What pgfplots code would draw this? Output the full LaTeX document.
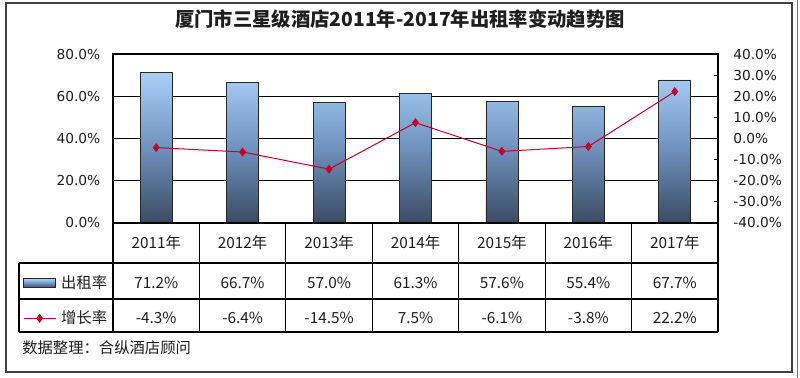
\documentclass[border=0pt]{standalone}
\usepackage{pgfplots}
\pgfplotsset{compat=1.18}
\usepackage{fontspec}
\setmainfont{Noto Sans CJK SC}
\newfontfamily\tickfont{DejaVu Sans}
\definecolor{barTop}{HTML}{A8D0F7}
\definecolor{barMid}{HTML}{6F92BE}
\definecolor{barBot}{HTML}{3B4A61}
\definecolor{lineRed}{HTML}{C80028}
\definecolor{txt}{HTML}{1E1E1E}
\pgfplotsset{
  barlegend/.style={legend image code/.code={\draw[##1] (0pt,-3.4pt) rectangle (24pt,3.4pt);}},
  linelegend/.style={legend image code/.code={\draw[mark repeat=2,mark phase=2,##1] plot coordinates {(0pt,0pt) (12pt,0pt) (24pt,0pt)};}},
}
\begin{document}
\begin{tikzpicture}[x=0.75pt,y=0.75pt]
\useasboundingbox (0,0) rectangle (800,378);
\fill[white] (0,0) rectangle (800,378);
\draw[line width=1.4pt, black!75] (6,375) rectangle (792,6);
\draw[line width=1pt, black!55] (797.5,0) -- (797.5,378);
\node[font=\bfseries\fontsize{14.5}{16}\selectfont, text=txt] at (400,359) {厦门市三星级酒店2011年-2017年出租率变动趋势图};

\begin{axis}[at={(84.75pt,116.25pt)}, anchor=south west, scale only axis,
  width=453.75pt, height=126.75pt,
  xmin=-0.5, xmax=6.5, ymin=0, ymax=80,
  xtick=\empty, ytick={0,20,...,80},
  ymajorgrids, grid style={black, line width=0.75pt},
  axis line style={black, line width=0.9pt},
  major tick length=0pt,
  /pgf/number format/assume math mode=true,
  yticklabel={\pgfmathprintnumber[fixed,fixed zerofill,precision=1]{\tick}\%},
  yticklabel style={font=\tickfont\fontsize{10.3}{12}\selectfont, text=txt, xshift=-6pt},
]
\addplot[ybar, bar width=24pt, draw=black!85, line width=0.6pt,
  top color=barTop, bottom color=barBot, middle color=barMid]
  coordinates {(0,71.2) (1,66.7) (2,57.0) (3,61.3) (4,57.6) (5,55.4) (6,67.7)};
\end{axis}

\begin{axis}[at={(84.75pt,116.25pt)}, anchor=south west, scale only axis,
  width=453.75pt, height=126.75pt,
  xmin=-0.5, xmax=6.5, ymin=-40, ymax=40,
  hide x axis, axis y line*=right,
  ytick={-40,-30,...,40},
  tick align=inside, major tick length=3pt,
  ytick style={black, line width=0.6pt},
  axis line style={black, line width=0.9pt},
  /pgf/number format/assume math mode=true,
  yticklabel={\pgfmathprintnumber[fixed,fixed zerofill,precision=1]{\tick}\%},
  yticklabel style={font=\tickfont\fontsize{10.3}{12}\selectfont, text=txt, xshift=8pt},
  legend cell align=left,
  legend style={at={(axis description cs:-0.149,-0.3136)}, anchor=north west,
    draw=none, fill=none, inner sep=0pt, row sep=15.75pt, column sep=3.75pt,
    nodes={inner sep=0pt, text height=9.25pt, text depth=1.25pt,
      font=\fontsize{11.5}{13}\selectfont, text=txt}},
]
\addlegendimage{draw=black!85, line width=0.6pt, top color=barTop, bottom color=barBot, middle color=barMid, barlegend}
\addlegendentry{出租率}
\addplot[color=lineRed, line width=0.75pt, mark=diamond*, mark size=2.8pt, linelegend]
  coordinates {(0,-4.3) (1,-6.4) (2,-14.5) (3,7.5) (4,-6.1) (5,-3.8) (6,22.2)};
\addlegendentry{增长率}
\end{axis}

% data table
\begin{scope}[line width=0.9pt, black]
\draw (113,155) -- (718,155);
\draw (19,115) -- (718,115);
\draw (19,79) -- (718,79);
\draw (19,46) -- (718,46);
\draw (19,115) -- (19,46);
\foreach \k in {0,...,7} {\draw ({113+86.4286*\k},155) -- ({113+86.4286*\k},46);}
\end{scope}
\begin{scope}[every node/.style={font=\fontsize{11.5}{13}\selectfont, text=txt, inner sep=0pt}]
\foreach \yr [count=\i from 0] in {2011,2012,2013,2014,2015,2016,2017}
  {\node at ({156.2+86.4286*\i},135) {\yr 年};}
\foreach \v [count=\i from 0] in {71.2\%,66.7\%,57.0\%,61.3\%,57.6\%,55.4\%,67.7\%}
  {\node at ({156.2+86.4286*\i},95) {\v};}
\foreach \v [count=\i from 0] in {-4.3\%,-6.4\%,-14.5\%,7.5\%,-6.1\%,-3.8\%,22.2\%}
  {\node at ({156.2+86.4286*\i},60) {\v};}
\node[anchor=west] at (22,30) {数据整理：合纵酒店顾问};
\end{scope}
\end{tikzpicture}
\end{document}
